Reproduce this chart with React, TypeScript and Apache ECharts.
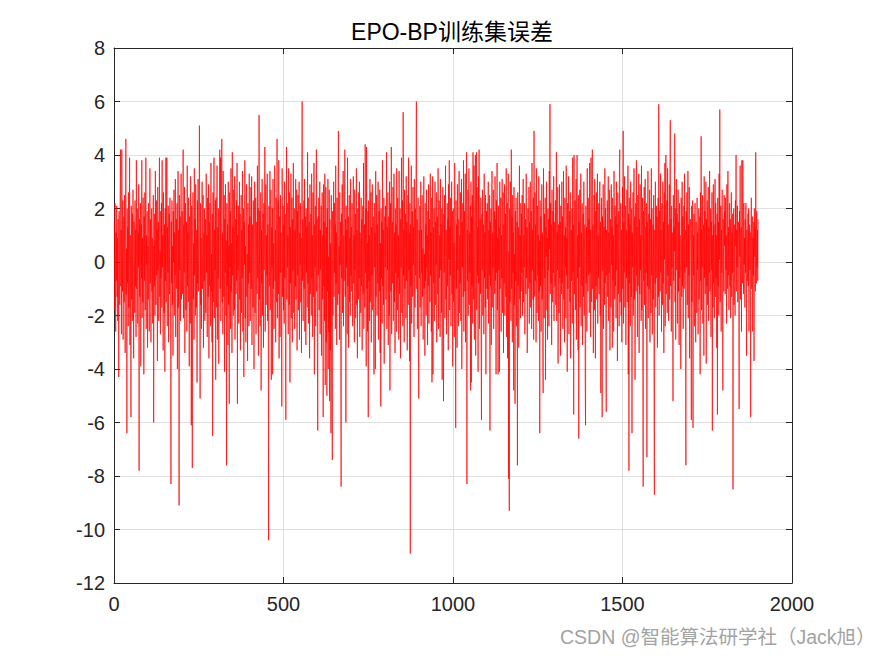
import React, { useEffect, useRef } from "react";
import * as echarts from "echarts";

const TITLE = "EPO-BP训练集误差";
const WATERMARK = "CSDN @智能算法研学社（Jack旭）";
const X_MIN = 0;
const X_MAX = 2000;
const X_STEP = 500;
const Y_MIN = -12;
const Y_MAX = 8;
const Y_STEP = 2;

const seg00 = [1.5,-1.8,2.2,0.4,-2.6,1.1,-0.7,2.1,-1.3,0.9,
-2.2,1.6,-0.5,-4.3,1.9,0.3,-1.6,2.4,4.2,-0.9,
1.2,-2.7,4.2,0.6,-1.1,2.3,-2.9,0.8,1.7,-1.5,
2.5,-0.3,-3.4,1.4,4.6,-1.2,0.5,-6.4,2.0,-0.8,
1.3,-2.4,2.6,-1.7,0.2,3.9,-3.1,1.0,-0.6,-5.8,
2.1,-1.4,0.7,1.8,-2.2,2.7,-0.4,-3.6,1.5,0.1,
-1.9,2.3,-0.9,1.2,-2.8,3.8,-1.0,0.4,2.0,-2.3,
1.1,-0.2,2.9,-7.8,1.6,-1.3,0.8,2.2,-3.9,1.4,
-0.6,3.8,-2.1,0.9,-1.5,2.4,0.3,-4.2,1.7,-0.7,
2.6,-1.8,0.5,3.9,-2.5,1.0,-0.1,1.9,-3.2,0.6];
const seg01 = [-1.4,2.2,0.7,-2.6,1.3,3.5,-0.8,1.6,-3.0,0.2,
2.0,-1.1,0.9,-2.3,1.7,2.5,-6.0,0.6,-0.9,1.8,
-2.0,3.4,0.1,-1.6,2.3,-0.5,1.2,-3.7,2.8,-0.3,
1.5,-2.2,0.8,3.9,-1.3,0.4,-2.7,1.9,-0.6,2.2,
-1.7,3.8,-0.2,1.0,-3.3,2.6,0.5,-1.9,1.4,-4.1,
2.0,-0.7,3.9,-1.5,0.9,3.9,-2.4,1.3,-0.4,2.1,
-3.0,0.7,1.8,-1.2,2.4,-0.1,-2.6,-8.3,1.5,-0.8,
2.3,-1.6,0.6,-3.5,1.9,0.0,2.7,-2.0,1.1,-0.5,
3.1,-2.8,0.4,1.6,-1.0,2.2,-4.0,0.9,3.4,-1.7,
1.2,-9.1,2.5,-0.3,1.7,-2.2,0.8,3.3,-1.4,0.2];
const seg02 = [1.9,-1.2,0.6,4.2,-2.1,1.4,-0.4,2.8,-3.4,0.9,
2.2,-1.8,0.3,1.5,-2.6,3.6,-0.9,1.1,-1.5,2.4,
-0.2,-3.9,1.7,0.5,-2.3,3.2,1.0,-6.1,2.1,-0.6,
-7.7,1.3,2.6,-1.4,0.7,-2.9,3.5,-0.5,1.6,-2.0,
2.9,0.2,-1.7,1.2,-4.5,2.3,-0.8,3.1,-1.1,0.6,
1.8,5.1,-0.3,-5.1,2.2,-1.6,0.9,-2.5,1.4,3.0,
-1.0,0.4,2.5,-3.2,1.1,-0.7,2.0,-2.2,0.8,1.6,
-1.9,3.3,-0.4,1.0,-2.8,2.4,0.1,-1.3,2.9,-3.6,
1.5,-0.9,2.2,0.6,-2.4,3.7,-1.1,0.3,-3.0,1.8,
-6.5,2.6,-1.5,0.7,3.9,-2.1,1.2,-0.3,2.3,-4.4];
const seg03 = [2.4,-1.7,0.5,3.6,-2.9,1.3,-0.6,2.0,-3.8,0.9,
1.7,4.2,-1.0,3.9,-2.2,0.4,2.8,4.6,-1.5,1.1,
-2.7,3.4,0.2,-1.3,2.5,-4.1,1.6,-0.4,2.9,-2.0,
0.8,-7.6,2.2,-0.9,1.4,-3.1,3.0,-1.6,0.6,-5.3,
2.6,-0.2,1.9,-2.5,3.5,-1.1,0.7,-3.4,4.1,-0.5,
1.3,-2.0,2.7,0.1,-1.8,3.2,-2.9,0.9,1.6,-1.2,
2.3,-0.7,3.7,-5.3,1.0,-0.3,2.1,-2.3,0.5,3.0,
-1.4,1.8,-3.3,0.4,2.5,-1.9,1.2,-0.6,3.4,-2.6,
0.8,2.0,-4.3,1.5,-0.1,3.8,-2.1,0.6,-3.0,1.9,
2.9,-1.3,0.3,-3.7,2.2,-0.8,1.4,-2.4,3.3,-0.4];
const seg04 = [1.7,-2.2,0.5,2.8,-1.0,3.2,-3.1,0.9,1.4,-1.7,
2.3,-0.4,-4.0,1.1,3.0,-1.9,0.6,2.4,-2.7,0.2,
1.5,-1.2,3.6,-0.6,2.0,-3.5,0.8,5.5,-1.4,1.9,
-2.4,0.4,2.6,-4.8,1.2,-0.8,3.1,-2.0,0.7,1.8,
-3.2,2.2,-0.3,1.5,4.3,-2.6,0.3,2.9,-1.6,1.0,
-0.5,3.3,-2.2,1.4,-1.1,-10.4,2.1,-0.9,1.6,3.4,
-1.8,0.5,2.7,-4.4,1.3,-0.2,2.0,-4.2,3.1,-1.0,
0.7,-2.5,1.9,3.6,-0.7,1.2,-3.0,2.4,0.2,-1.5,
4.6,-2.1,0.9,2.3,-1.2,3.8,-3.6,0.6,1.7,-2.8,
2.5,-0.4,1.1,-2.0,-5.4,3.5,-1.3,0.8,2.1,-1.8];
const seg05 = [1.4,-2.3,3.0,-0.6,1.8,-3.9,-5.9,0.9,4.3,-1.4,
2.2,-0.2,1.0,-2.7,3.5,0.4,-1.6,2.6,-4.5,1.3,
-0.8,3.3,-2.1,0.7,2.4,-3.0,1.6,-0.3,3.7,-1.9,
0.5,2.0,-2.5,1.2,-0.9,3.1,-1.4,0.8,2.7,-3.3,
1.9,-0.5,2.5,-1.8,0.3,3.0,-2.9,1.1,-0.1,2.2,
-1.5,0.9,-3.4,2.8,6.0,-0.7,1.6,-2.2,0.4,2.3,
-1.0,3.1,-2.6,0.6,1.7,-3.1,2.0,-0.4,1.3,-1.7,
4.1,-0.8,2.4,-2.3,0.2,1.5,-3.6,2.9,-1.2,0.7,
1.8,-2.0,3.3,-0.6,1.0,-2.8,2.6,-1.3,0.5,3.7,
-4.2,1.4,-0.2,2.1,-2.4,0.8,4.2,-1.1,1.6,-3.0];
const seg06 = [-6.3,1.7,-0.5,2.4,-1.8,0.6,3.0,-2.7,1.2,-0.3,
2.1,-3.5,0.8,2.6,-1.4,1.0,-5.8,2.9,-0.9,1.5,
-2.2,3.3,-4.6,0.4,2.8,-3.0,1.3,-5.0,2.0,-1.1,
3.1,-4.0,0.2,-2.6,2.7,-5.2,1.6,-3.3,0.7,-6.4,
2.5,-1.7,-4.4,-7.4,1.9,-2.0,0.9,3.0,-1.3,2.2,
-0.4,1.4,-2.5,3.6,-0.8,1.1,-3.1,2.4,0.3,-1.6,
2.0,4.9,-1.2,0.6,-2.9,2.6,-0.1,1.5,-3.7,-8.4,
1.8,-0.6,2.9,-1.9,0.5,3.4,-2.4,1.0,-0.7,2.3,
4.2,-1.3,1.6,-6.0,2.1,-0.2,1.2,-2.7,3.9,-0.9,
1.7,-3.2,0.4,2.5,-1.5,0.9,-2.0,3.1,-0.5,1.3];
const seg07 = [-1.1,2.2,0.6,-2.4,1.5,3.2,-0.8,1.0,-3.0,2.7,
-0.3,1.8,-2.1,0.4,3.5,-1.6,1.2,-3.6,2.0,0.1,
-1.4,2.6,-0.6,3.0,-2.8,1.1,0.5,-1.9,2.4,-0.9,
1.6,-3.3,0.8,2.1,-1.2,3.7,-2.5,0.3,1.4,-1.7,
4.4,-0.4,2.0,-3.9,4.3,-1.0,0.7,-2.6,1.9,-5.8,
2.3,-0.7,1.0,-2.2,3.1,-1.5,0.2,2.6,-3.0,1.3,
-0.5,2.9,-1.8,0.9,1.7,-2.4,-4.2,2.2,-0.2,1.1,
-4.0,3.4,-1.3,0.6,2.5,-2.0,1.4,-0.8,3.0,-2.9,
0.4,1.9,-1.1,2.7,-3.4,0.7,-5.4,2.0,-0.6,1.5,
-2.3,3.8,-0.9,1.2,-1.6,2.4,-3.8,0.5,1.7,-0.2];
const seg08 = [2.1,-1.4,0.8,4.1,-2.5,1.3,-0.3,2.6,-3.1,0.5,
1.7,-2.0,3.0,-4.8,0.9,2.2,-1.1,4.3,-2.7,0.4,
1.5,-0.8,2.8,-2.2,0.6,3.3,-1.5,1.1,-3.4,2.0,
-0.4,1.4,-2.6,3.5,0.2,-1.8,2.4,-0.6,1.0,-2.9,
3.4,-1.2,0.7,2.0,-3.6,1.6,-0.2,3.9,-1.9,0.9,
2.3,-2.4,5.6,-0.5,1.2,-3.0,2.7,-1.0,0.4,1.8,
-2.1,3.2,-0.7,1.5,-3.3,0.8,2.5,-1.6,3.9,-0.3,
1.1,-3.7,2.2,-10.9,1.4,-0.9,3.6,-2.3,0.6,1.9,
-1.3,2.8,-0.1,1.3,-2.8,3.1,0.3,-1.7,2.0,-0.5,
3.4,6.0,-1.0,1.6,-2.5,0.7,2.4,-3.2,-5.1,1.2];
const seg09 = [-0.6,2.1,-1.7,0.9,3.0,-2.4,1.2,-0.4,2.5,-1.3,
0.5,-2.9,1.8,3.2,-1.0,0.3,-3.5,2.2,-0.7,1.4,
-2.0,2.7,-0.2,1.0,-3.1,1.9,-0.9,2.9,-2.3,0.6,
1.6,-1.5,3.3,-0.5,1.1,-2.6,2.4,-4.5,0.8,3.2,
-4.2,1.3,-0.8,2.0,-2.2,0.4,3.0,-1.6,1.5,-0.1,
2.6,-3.0,0.9,1.7,-1.2,3.5,-2.5,0.2,2.3,-0.6,
1.0,-2.8,3.1,-0.3,1.4,-1.9,2.0,-4.4,0.7,2.8,
-1.1,-5.2,1.8,-0.4,2.5,-2.1,0.6,3.6,-1.4,1.2,
-2.7,0.3,2.2,-0.9,1.6,-3.3,2.9,0.1,3.8,-1.8,
1.3,-0.5,2.4,-2.4,0.8,3.0,-1.2,1.9,-3.9,0.4];
const seg10 = [2.0,-1.5,0.7,-2.8,3.7,1.1,-0.6,-6.2,2.3,-1.0,
1.4,-3.2,2.9,-0.3,1.6,-2.4,0.5,3.4,-1.9,1.0,
-0.8,2.6,-2.2,0.9,3.1,-4.0,1.5,-0.2,2.2,-1.3,
3.8,-2.6,0.4,1.9,-1.1,3.3,-3.0,0.8,2.4,4.1,
-8.3,1.2,-0.7,2.7,-2.0,0.6,3.5,-1.6,1.1,-0.4,
2.1,-4.8,3.0,-4.5,1.7,-0.9,2.5,-2.3,4.1,0.3,
-1.4,3.6,-2.9,1.0,2.2,4.0,-3.5,0.5,4.1,-1.8,
2.8,-0.5,1.3,-4.1,3.2,-0.8,4.2,-2.5,0.9,1.6,
-1.2,2.4,-3.3,-5.9,1.8,-0.3,2.7,-2.0,0.7,1.4,
-2.7,3.3,-0.6,1.1,-1.7,2.5,-4.2,0.8,1.9,-1.0];
const seg11 = [2.2,-1.4,0.6,3.0,-2.3,1.2,-0.5,2.5,-6.3,1.5,
-0.9,2.0,-3.1,0.8,3.4,-1.7,1.1,-0.2,2.7,-2.5,
0.4,1.9,-1.2,3.2,-0.7,1.6,-4.2,2.3,-0.4,3.7,
-1.8,0.9,-4.2,2.1,-0.3,1.3,-4.1,3.0,-1.0,0.7,
2.4,-2.6,1.0,-0.6,3.1,-1.9,0.2,2.6,-3.4,1.4,
-0.8,2.9,-2.0,0.5,1.8,-1.3,3.5,-2.8,0.9,2.2,
-3.6,1.2,3.3,-8.1,0.4,-9.3,2.0,-1.5,3.0,0.6,
-2.2,4.2,-1.0,1.7,-3.0,2.5,-0.4,1.1,-4.8,2.8,
-1.6,0.3,-5.3,1.9,-0.7,2.4,-2.4,0.8,1.5,-7.6,
2.6,-0.9,1.3,-3.2,0.5,3.6,-1.4,1.0,-2.1,2.2];
const seg12 = [-1.1,1.8,-0.4,2.5,-2.0,0.7,3.1,-1.5,1.0,-0.2,
2.2,-2.7,0.5,1.6,-1.2,3.3,-0.6,1.3,-3.4,0.9,
2.0,-1.0,0.3,2.8,-2.3,1.5,-0.8,3.0,-1.7,0.6,
1.9,-2.5,3.7,-0.3,1.2,-1.4,2.4,-2.9,4.9,0.2,
-1.3,2.6,-0.7,1.4,-3.0,3.5,0.1,-1.9,2.1,-0.5,
1.0,-2.2,3.2,-1.1,0.8,-6.4,2.3,-0.9,1.7,-2.6,
0.4,2.9,-1.4,1.1,-4.0,-4.9,3.5,0.6,-2.1,1.8,
-0.6,2.4,-4.4,1.3,0.2,3.0,-1.8,0.9,-2.9,2.0,
-0.3,1.6,-2.4,3.4,0.5,5.9,-1.2,2.2,-0.8,1.4,
-3.1,2.7,0.3,-1.5,1.9,-0.4,3.2,-2.2,0.7,1.5];
const seg13 = [-0.9,2.3,-1.6,0.8,4.1,-2.2,1.1,-0.3,2.8,-3.8,
1.4,0.2,-1.9,2.9,-0.6,1.5,-3.5,2.1,0.4,-1.2,
3.0,-0.8,1.7,-2.5,0.6,3.4,-1.4,1.0,-3.0,2.4,
-0.2,1.3,-2.1,3.6,-0.5,0.9,-4.1,2.2,-1.0,1.6,
3.2,-2.7,0.3,1.9,-1.5,2.6,-3.6,0.7,1.2,-0.7,
2.0,-2.3,3.9,-0.4,1.4,-5.7,4.0,-1.2,0.5,2.3,
-1.8,0.8,3.1,-2.9,1.6,4.0,-0.6,1.0,-3.3,2.5,
-6.6,1.5,-0.2,2.7,-1.7,0.4,3.3,-2.4,1.1,-0.9,
2.2,-3.1,0.6,1.8,-1.3,3.0,-2.0,0.9,1.4,-4.5,
-6.1,2.1,-0.8,1.3,-2.6,3.5,0.2,-1.1,2.4,-0.5];
const seg14 = [1.6,-1.9,3.7,-0.4,1.2,-2.8,3.9,0.5,-1.5,2.0,
4.2,-1.0,1.4,-3.4,0.7,2.5,-1.8,3.1,-0.2,-3.6,
1.9,-0.9,2.6,-1.4,0.3,3.3,-2.3,1.0,-0.6,2.2,
-1.2,0.8,3.0,-2.0,1.5,-4.9,0.4,2.4,-1.1,-5.8,
1.7,-0.3,2.9,-2.5,0.9,1.3,-1.6,3.5,-0.8,2.0,
-2.9,-5.6,1.2,-0.5,2.3,-1.3,0.6,3.2,-2.2,1.1,
-0.4,2.7,-3.3,0.8,1.6,-1.7,2.9,-0.1,1.3,-3.2,
2.4,-0.7,1.0,-2.6,3.4,0.2,-1.4,2.1,-0.9,1.7,
-2.1,3.0,-0.3,1.4,-3.7,2.6,0.5,-1.2,1.9,-2.4,
3.6,4.2,-1.5,0.7,2.2,-2.0,1.2,-3.0,0.4,2.8];
const seg15 = [-1.0,4.9,-2.3,1.5,-0.4,3.2,-1.7,0.6,2.1,-3.1,
1.2,-0.6,2.7,-1.5,0.3,3.6,-4.2,1.8,-7.8,2.4,
-0.8,1.4,-2.4,3.0,0.5,-1.3,2.0,-6.4,1.1,-0.2,
2.6,-2.0,0.8,3.5,-1.4,1.7,-4.4,0.4,2.2,-1.1,
3.8,-0.5,1.3,-2.8,2.5,-0.9,0.7,3.3,-3.4,1.6,
-1.2,2.9,-0.3,1.0,-2.2,3.6,-1.8,0.5,2.4,-4.0,
-8.4,1.9,-0.7,2.8,-1.6,0.9,3.1,-2.5,1.3,-0.4,
2.2,-7.3,1.5,-0.9,3.4,-2.1,0.6,1.8,-1.0,2.7,
-3.0,0.8,1.6,-1.9,3.5,-0.5,2.0,-2.7,0.3,1.4,
-1.4,2.5,-4.7,-8.7,1.2,-0.8,3.0,-1.7,0.9,2.1];
const seg16 = [-0.6,1.7,-3.2,0.9,2.4,-1.3,5.9,-2.0,0.5,1.9,
-1.1,3.3,-0.4,1.2,-2.6,2.2,0.3,-1.6,3.0,-0.8,
1.5,-3.4,2.6,0.1,3.7,-2.4,1.0,4.0,-1.2,0.6,
2.3,-1.9,3.5,-0.5,1.4,-2.2,0.8,2.9,-1.4,3.2,
5.3,-0.9,1.6,-2.6,2.1,-0.2,1.1,-1.8,-5.2,2.5,
-0.7,1.3,0.4,4.8,-1.5,2.0,-2.9,0.9,3.1,-0.3,
1.8,-2.3,0.6,2.7,-1.1,1.5,-3.1,2.2,-0.6,1.0,
-1.7,-4.0,2.4,0.2,-1.3,3.0,-0.9,1.7,-2.5,0.8,
2.1,-1.0,3.3,-0.4,1.2,-2.8,-7.6,1.9,-0.2,2.6,
-1.6,0.7,3.4,-2.1,1.4,-0.5,2.8,-3.6,0.3,1.6];
const seg17 = [1.3,-0.8,-5.9,2.1,-1.5,0.4,2.3,-6.2,1.0,-0.5,
1.8,-2.4,0.7,2.2,-1.0,-3.0,1.5,0.2,-1.9,2.4,
-0.3,1.1,-2.7,0.9,2.0,-1.4,0.5,1.7,-4.2,2.6,
-0.7,4.7,-1.8,1.2,-0.2,2.5,-2.3,0.8,1.4,-3.5,
3.2,-0.6,1.9,-1.2,0.3,3.0,-3.8,1.6,-0.9,2.3,
-1.6,0.6,2.8,-2.2,1.3,-0.4,3.4,-1.1,0.9,2.0,
-2.8,1.5,-0.3,2.6,-6.3,1.0,-1.7,2.9,-0.8,1.4,
-2.1,0.4,3.1,-1.3,2.2,-0.6,1.0,-3.2,1.8,-5.7,
2.4,-0.9,1.5,-2.0,3.3,0.1,5.7,-1.5,0.8,2.1,
-2.6,1.2,-0.4,2.7,-1.8,-4.8,1.6,0.3,-1.1,2.5];
const seg18 = [0.6,1.9,-1.2,2.4,-0.3,1.0,-2.3,2.9,0.4,-1.0,
3.4,-0.5,1.3,-1.8,0.8,2.2,-0.9,1.6,-2.1,0.5,
2.6,-1.3,1.1,-0.4,1.8,-8.5,0.9,2.0,-1.6,0.3,
1.4,-2.0,2.3,0.6,4.0,-1.1,1.2,-0.2,2.1,-1.5,
0.8,1.5,-0.6,-5.5,1.9,0.2,3.6,-1.4,0.7,1.3,
-2.6,3.8,0.1,-0.8,3.8,1.0,-1.2,2.2,-0.1,0.9,
-1.7,1.6,-0.4,2.2,0.5,-3.5,1.2,-0.7,0.4,1.8,
-0.9,2.0,-2.6,0.7,1.4,-0.3,1.1,-5.8,0.6,2.4,
-1.0,0.3,1.7,-2.6,0.9,-0.5,1.5,-3.7,2.0,0.2,
1.3,-1.1,4.1,0.4,-0.8,1.9,-0.2,1.2,-0.7,1.6];

const errors: number[] = [
  ...seg00, ...seg01, ...seg02, ...seg03, ...seg04, ...seg05, ...seg06,
  ...seg07, ...seg08, ...seg09, ...seg10, ...seg11, ...seg12, ...seg13,
  ...seg14, ...seg15, ...seg16, ...seg17, ...seg18,
];

const FONT = '"Liberation Sans", Arial, Helvetica, "Noto Sans CJK SC", sans-serif';
const AXIS_COLOR = "#262626";

export default function App() {
  const ref = useRef<HTMLDivElement>(null);
  useEffect(() => {
    if (!ref.current) return;
    const chart = echarts.init(ref.current, null, { renderer: "svg" });
    const data = errors.map((v, i) => [i + 1, v]);
    const axisCommon = {
      type: "value" as const,
      axisLine: { show: true, onZero: false, lineStyle: { color: AXIS_COLOR, width: 1 } },
      axisTick: { show: true, inside: true, length: 6, lineStyle: { color: AXIS_COLOR, width: 1 } },
    };
    chart.setOption({
      animation: false,
      backgroundColor: "#ffffff",
      grid: { left: 114, right: 83, top: 48, bottom: 73, containLabel: false },
      xAxis: [
        {
          ...axisCommon,
          position: "bottom",
          min: X_MIN,
          max: X_MAX,
          interval: X_STEP,
          axisLabel: {
            color: AXIS_COLOR,
            fontSize: 20,
            fontFamily: FONT,
            margin: 11,
            formatter: (v: number) => String(v),
          },
          splitLine: { show: true, lineStyle: { color: "#dfdfdf", width: 1 } },
        },
        {
          ...axisCommon,
          position: "top",
          min: X_MIN,
          max: X_MAX,
          interval: X_STEP,
          axisLabel: { show: false },
          splitLine: { show: false },
        },
      ],
      yAxis: [
        {
          ...axisCommon,
          position: "left",
          min: Y_MIN,
          max: Y_MAX,
          interval: Y_STEP,
          axisLabel: {
            color: AXIS_COLOR,
            fontSize: 20,
            fontFamily: FONT,
            margin: 9,
            formatter: (v: number) => String(v),
          },
          splitLine: { show: true, lineStyle: { color: "#dfdfdf", width: 1 } },
        },
        {
          ...axisCommon,
          position: "right",
          min: Y_MIN,
          max: Y_MAX,
          interval: Y_STEP,
          axisLabel: { show: false },
          splitLine: { show: false },
        },
      ],
      series: [
        {
          type: "line",
          xAxisIndex: 0,
          yAxisIndex: 0,
          data,
          showSymbol: false,
          symbol: "none",
          lineStyle: { color: "#ff0000", width: 0.7 },
          itemStyle: { color: "#ff0000" },
        },
      ],
      graphic: [
        {
          type: "text",
          x: 452,
          y: 32,
          style: {
            text: TITLE,
            font: `23px ${FONT}`,
            fill: "#000000",
            align: "center",
            verticalAlign: "middle",
            textAlign: "center",
            textVerticalAlign: "middle",
          },
        },
        {
          type: "text",
          x: 560,
          y: 637,
          style: {
            text: WATERMARK,
            font: `19.5px ${FONT}`,
            fill: "#a3a3a3",
            align: "left",
            verticalAlign: "middle",
            textAlign: "left",
            textVerticalAlign: "middle",
          },
        },
      ],
    });
    return () => chart.dispose();
  }, []);
  return (
    <div
      ref={ref}
      style={{ position: "fixed", left: 0, top: 0, width: 875, height: 656, background: "#fff" }}
    />
  );
}
